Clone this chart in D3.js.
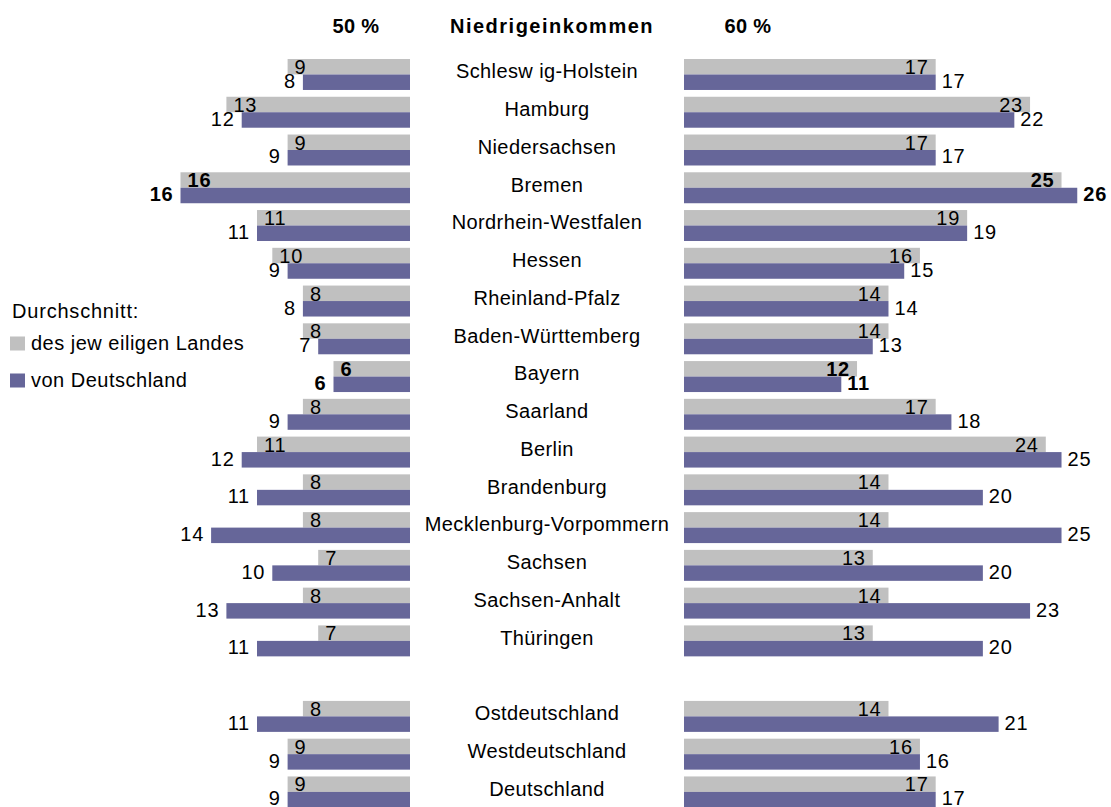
<!DOCTYPE html>
<html>
<head>
<meta charset="utf-8">
<script src="https://cdn.jsdelivr.net/npm/d3@7"></script>
<style>
  body { margin: 0; background: #fff; }
  svg text { font-family: "Liberation Sans", Arial, sans-serif; fill: #000; }
</style>
</head>
<body>
<div id="chart"></div>
<script>
// Bundesländer (Reihenfolge wie im Bild), danach Aggregate
const states = ['Schlesw ig-Holstein', 'Hamburg', 'Niedersachsen', 'Bremen', 'Nordrhein-Westfalen',
  'Hessen', 'Rheinland-Pfalz', 'Baden-Württemberg', 'Bayern', 'Saarland', 'Berlin',
  'Brandenburg', 'Mecklenburg-Vorpommern', 'Sachsen', 'Sachsen-Anhalt', 'Thüringen']
const totals = ['Ostdeutschland', 'Westdeutschland', 'Deutschland']

// 50 % Schwelle
const landes50 = [9, 13, 9, 16, 11, 10, 8, 8, 6, 8, 11, 8, 8, 7, 8, 7, 8, 9, 9]
const deutsch50 = [8, 12, 9, 16, 11, 9, 8, 7, 6, 9, 12, 11, 14, 10, 13, 11, 11, 9, 9]
// 60 % Schwelle
const landes60 = [17, 23, 17, 25, 19, 16, 14, 14, 12, 17, 24, 14, 14, 13, 14, 13, 14, 16, 17]
const deutsch60 = [17, 22, 17, 26, 19, 15, 14, 13, 11, 18, 25, 20, 25, 20, 23, 20, 21, 16, 17]

const headers = ['50 %', 'Niedrigeinkommen', '60 %']
const legendTitle = 'Durchschnitt:'
const legendItems = ['des jew eiligen Landes', 'von Deutschland']

const W = 1111, H = 807
const colors = ['#c0c0c0', '#666699']
const fs = 20

const svg = d3.select('#chart').append('svg')
  .attr('width', W).attr('height', H)

// Zeilen: Bundesländer, Leerzeile, Aggregate
const names = states.concat(totals)
const rowDomain = states.concat([' ']).concat(totals)
const step = 37.76
const y = d3.scaleBand()
  .domain(rowDomain)
  .range([59 - 0.09 * step, 59 - 0.09 * step + 20 * step])
  .paddingInner(0.18)
  .paddingOuter(0.09)
const ySub = d3.scaleBand().domain([0, 1]).range([0, y.bandwidth()])

// Achsen beginnen bei 1 (wie im Original)
const xL = d3.scaleLinear().domain([1, 17]).range([410, 410 - 16 * 15.3])
const xR = d3.scaleLinear().domain([1, 27]).range([684, 684 + 26 * 15.73])

// fett: Max / Min der Landeswerte (nur Bundesländer)
const nS = states.length
const boldIdx = (arr) => {
  const s = arr.slice(0, nS)
  return [s.indexOf(d3.max(s)), s.indexOf(d3.min(s))]
}
const bold50 = boldIdx(landes50)
const bold60 = boldIdx(landes60)

const rows = names.map((name, i) => ({
  name: name,
  vals: [[landes50[i], deutsch50[i]], [landes60[i], deutsch60[i]]],
  bold: [bold50.indexOf(i) > -1, bold60.indexOf(i) > -1]
}))

const left = svg.append('g').attr('class', 'panel-50')
const right = svg.append('g').attr('class', 'panel-60')

// Balken: links wachsen nach links, rechts nach rechts
rows.forEach(r => {
  const y0 = y(r.name)
  r.vals[0].forEach((v, k) => {
    left.append('rect')
      .attr('x', xL(v))
      .attr('y', y0 + ySub(k))
      .attr('width', xL(1) - xL(v))
      .attr('height', ySub.bandwidth())
      .attr('fill', colors[k])
  })
  r.vals[1].forEach((v, k) => {
    right.append('rect')
      .attr('x', xR(1))
      .attr('y', y0 + ySub(k))
      .attr('width', xR(v) - xR(1))
      .attr('height', ySub.bandwidth())
      .attr('fill', colors[k])
  })
})

// Wertebeschriftung: grau innen am Balkenende, lila aussen
const addLabel = (g, x, yy, anchor, isBold, v) => {
  g.append('text')
    .attr('x', x)
    .attr('y', yy)
    .attr('text-anchor', anchor)
    .attr('font-size', fs)
    .attr('letter-spacing', 0.8)
    .attr('font-weight', isBold ? 'bold' : 'normal')
    .text(v)
}
rows.forEach(r => {
  const y0 = y(r.name)
  const yGray = y0 + ySub(0) + ySub.bandwidth() - 0.5
  const yPurp = y0 + ySub(1) + ySub.bandwidth() - 2
  const v50 = r.vals[0], v60 = r.vals[1]
  addLabel(left, xL(v50[0]) + 7, yGray, 'start', r.bold[0], v50[0])
  addLabel(left, xL(v50[1]) - 7, yPurp, 'end', r.bold[0], v50[1])
  addLabel(right, xR(v60[0]) - 7, yGray, 'end', r.bold[1], v60[0])
  addLabel(right, xR(v60[1]) + 6, yPurp, 'start', r.bold[1], v60[1])
})

// Ländernamen in der Mitte
svg.append('g').selectAll('text')
  .data(rows)
  .enter()
  .append('text')
  .attr('x', (xL(1) + xR(1)) / 2)
  .attr('y', d => y(d.name) + 19.3)
  .attr('text-anchor', 'middle')
  .attr('font-size', fs)
  .attr('letter-spacing', 0.4)
  .text(d => d.name)

// Kopfzeile
const hx = [356, 552, 748]
headers.forEach((h, i) => {
  svg.append('text')
    .attr('x', hx[i])
    .attr('y', 33)
    .attr('text-anchor', 'middle')
    .attr('font-size', fs)
    .attr('font-weight', 'bold')
    .attr('letter-spacing', i === 1 ? 1.5 : 0.3)
    .text(h)
})

// Legende
const lg = svg.append('g').attr('class', 'legend')
lg.append('text')
  .attr('x', 12).attr('y', 318)
  .attr('font-size', fs)
  .attr('letter-spacing', 0.8)
  .text(legendTitle)
legendItems.forEach((t, i) => {
  lg.append('rect')
    .attr('x', 10).attr('y', 336.5 + i * 37)
    .attr('width', 15).attr('height', 14)
    .attr('fill', colors[i])
  lg.append('text')
    .attr('x', 31).attr('y', 350 + i * 37)
    .attr('font-size', fs)
    .attr('letter-spacing', 0.5)
    .text(t)
})
</script>
</body>
</html>
